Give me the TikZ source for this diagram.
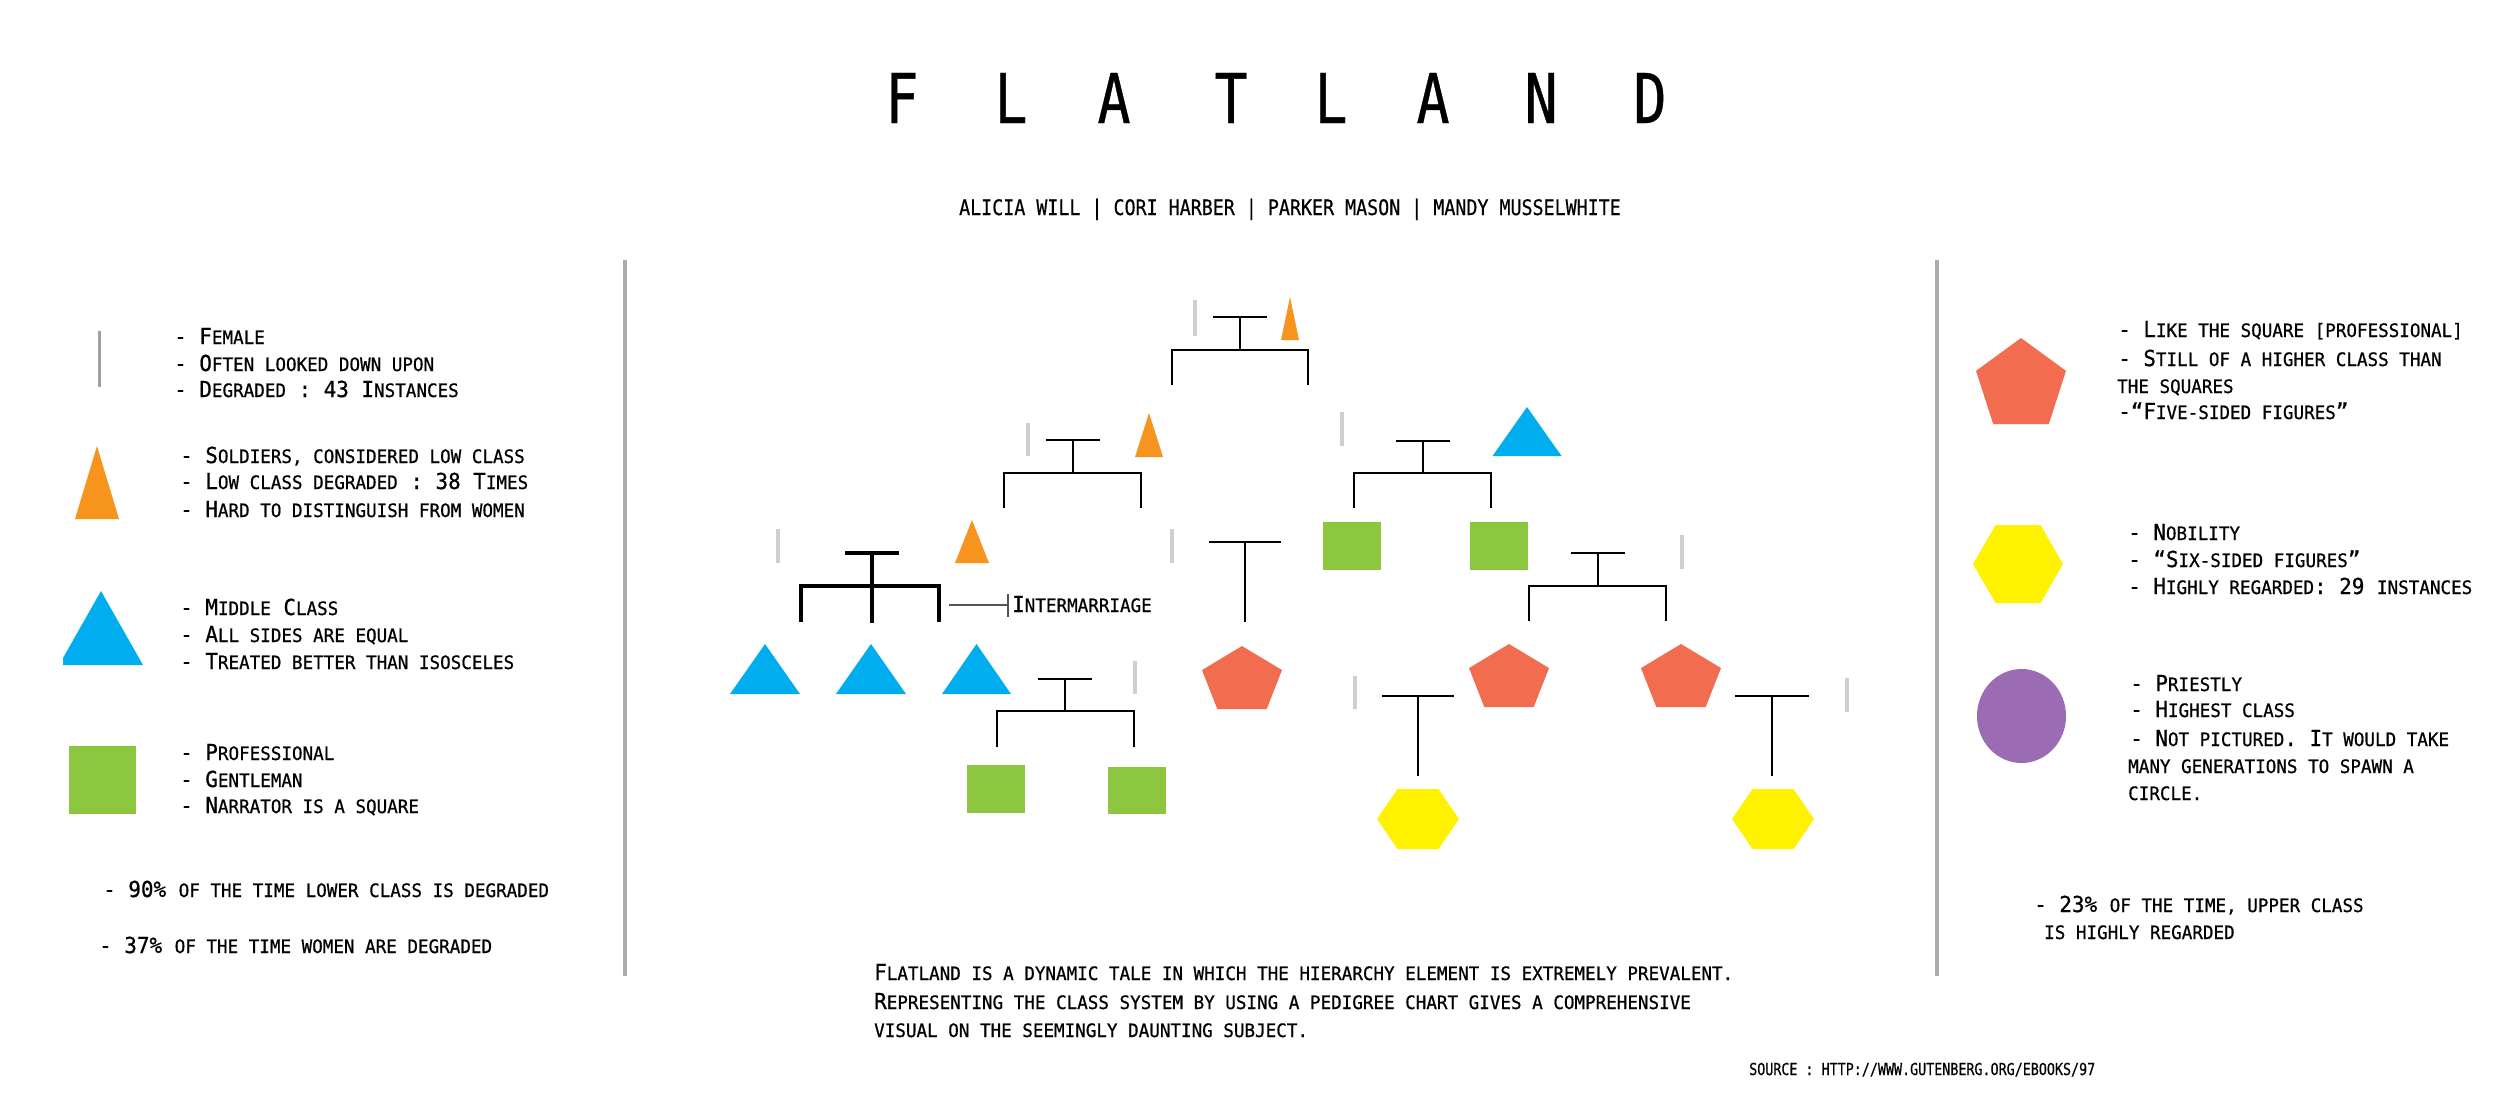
\documentclass[tikz,border=0pt]{standalone}
\usepackage{fontspec}
\newfontfamily\legfont[FakeStretch=0.95,FakeBold=0.7]{DejaVu Sans Mono}
\newfontfamily\titlefont[FakeStretch=0.8,FakeBold=0.6]{DejaVu Sans Mono}
\newfontfamily\authfont[FakeStretch=0.86,FakeBold=0.5]{DejaVu Sans Mono}
\newfontfamily\srcfont[FakeStretch=0.81,FakeBold=0.5]{DejaVu Sans Mono}
\newcommand\smsz{18.5}
\newcommand\smc[1]{{\fontsize{\smsz}{\smsz}\selectfont #1}}
\definecolor{orangeT}{HTML}{F7941D}
\definecolor{blueT}{HTML}{00AEEF}
\definecolor{greenS}{HTML}{8DC63F}
\definecolor{pentaC}{HTML}{F26C4F}
\definecolor{hexaC}{HTML}{FFF200}
\definecolor{circC}{HTML}{9B6BB4}
\definecolor{femlight}{HTML}{CFCFCF}
\definecolor{femdark}{HTML}{A0A0A0}
\definecolor{divC}{HTML}{ABABAB}
\definecolor{linkC}{HTML}{555555}
\tikzset{
  leg/.style={anchor=base west, inner sep=0pt, font=\legfont\fontsize{22}{27}\selectfont},
  titlech/.style={anchor=base, inner sep=0pt, font=\titlefont\fontsize{68.6}{70}\selectfont},
  tree/.style={draw=black, line width=2.5pt},
  heavy/.style={draw=black, line width=4.5pt},
  fem/.style={draw=femlight, line width=3.5pt},
  femkey/.style={draw=femdark, line width=2.5pt},
  divider/.style={draw=divC, line width=3.5pt},
  link/.style={draw=linkC, line width=2pt}
}
% pedigree helpers
\newcommand\pedT[5][tree]{\draw[#1] (#2,#4) -- (#3,#4) ({(#2+#3)/2},#4) -- ({(#2+#3)/2},#5);}
\newcommand\pedB[5][tree]{\draw[#1] (#2,#5) -- (#2,#4) -- (#3,#4) -- (#3,#5);}
\newcommand\femline[3]{\draw[fem] (#1,#2) -- (#1,#3);}
\newcommand\tri[5]{\fill[#5] (#1,#2) -- ({#1+#3},#4) -- ({#1-#3},#4) -- cycle;}
\newcommand\penta[5]{\fill[#5] (#1,#2) -- ({#1+0.5*#3},{#2+0.382*#4}) -- ({#1+0.309*#3},{#2+#4}) -- ({#1-0.309*#3},{#2+#4}) -- ({#1-0.5*#3},{#2+0.382*#4}) -- cycle;}
\newcommand\hexa[5]{\fill[#5] ({#1-0.5*#3},#2) -- ({#1-0.25*#3},{#2-0.5*#4}) -- ({#1+0.25*#3},{#2-0.5*#4}) -- ({#1+0.5*#3},#2) -- ({#1+0.25*#3},{#2+0.5*#4}) -- ({#1-0.25*#3},{#2+0.5*#4}) -- cycle;}
\begin{document}
\begin{tikzpicture}[x=1pt,y=-1pt]
\useasboundingbox (0,0) rectangle (2500,1098);
\fill[white] (0,0) rectangle (2500,1098);

% ---------- title and authors
\foreach \ch/\cx [count=\i] in {F/902,L/1011,A/1114,T/1231,L/1331,A/1433,N/1541,D/1650}
  \node[titlech] (title\i) at (\cx,123) {\ch};
\node[anchor=base, inner sep=0pt, font=\authfont\fontsize{21.3}{24}\selectfont] (authors) at (1290,215)
  {ALICIA WILL | CORI HARBER | PARKER MASON | MANDY MUSSELWHITE};

% ---------- dividers
\draw[divider] (625,260) -- (625,976);
\draw[divider] (1937,260) -- (1937,976);

% ---------- left legend
\draw[femkey] (99.5,331) -- (99.5,387);
\node[leg] (l1) at (174,344) {- F\smc{EMALE}};
\node[leg] (l2) at (174,371) {- O\smc{FTEN LOOKED DOWN UPON}};
\node[leg] (l3) at (174,397) {- D\smc{EGRADED} : 43 I\smc{NSTANCES}};

\tri{97}{446}{22}{519}{orangeT}
\node[leg] (l4) at (180,463) {- S\smc{OLDIERS, CONSIDERED LOW CLASS}};
\node[leg] (l5) at (180,489) {- L\smc{OW CLASS DEGRADED} : 38 T\smc{IMES}};
\node[leg] (l6) at (180,517) {- H\smc{ARD TO DISTINGUISH FROM WOMEN}};

\fill[blueT] (101,591) -- (143,665) -- (63,665) -- (63,658) -- cycle;
\node[leg] (l7) at (180,615) {- M\smc{IDDLE} C\smc{LASS}};
\node[leg] (l8) at (180,642) {- A\smc{LL SIDES ARE EQUAL}};
\node[leg] (l9) at (180,669) {- T\smc{REATED BETTER THAN ISOSCELES}};

\fill[greenS] (69,746) rectangle (136,814);
\node[leg] (l10) at (180,760) {- P\smc{ROFESSIONAL}};
\node[leg] (l11) at (180,787) {- G\smc{ENTLEMAN}};
\node[leg] (l12) at (180,813) {- N\smc{ARRATOR IS A SQUARE}};

\node[leg] (l13) at (103,897) {- 90\% \smc{OF THE TIME LOWER CLASS IS DEGRADED}};
\node[leg] (l14) at (99,953) {- 37\% \smc{OF THE TIME WOMEN ARE DEGRADED}};

% ---------- right legend
\penta{2021}{338}{90}{86}{pentaC}
\node[leg] (r1) at (2118,337) {- L\smc{IKE THE SQUARE [PROFESSIONAL]}};
\node[leg] (r2) at (2118,366) {- S\smc{TILL OF A HIGHER CLASS THAN}};
\node[leg] (r3) at (2117,393) {\smc{THE SQUARES}};
\node[leg] (r4) at (2118,419) {-“F\smc{IVE-SIDED FIGURES}”};

\hexa{2018}{564}{90}{78}{hexaC}
\node[leg] (r5) at (2128,540) {- N\smc{OBILITY}};
\node[leg] (r6) at (2128,567) {- “S\smc{IX-SIDED FIGURES}”};
\node[leg] (r7) at (2128,594) {- H\smc{IGHLY REGARDED}: 29 \smc{INSTANCES}};

\fill[circC] (2021.5,716) ellipse [x radius=44.5, y radius=47];
\node[leg] (r8) at (2130,691) {- P\smc{RIESTLY}};
\node[leg] (r9) at (2130,717) {- H\smc{IGHEST CLASS}};
\node[leg] (r10) at (2130,746) {- N\smc{OT PICTURED}. I\smc{T WOULD TAKE}};
\node[leg] (r11) at (2128,773) {\smc{MANY GENERATIONS TO SPAWN A}};
\node[leg] (r12) at (2128,800) {\smc{CIRCLE.}};

\node[leg] (r13) at (2034,912) {- 23\% \smc{OF THE TIME, UPPER CLASS}};
\node[leg] (r14) at (2044,939) {\smc{IS HIGHLY REGARDED}};

% ---------- pedigree chart
% females (grey strokes)
\femline{1195}{300}{336}
\femline{1028}{423}{456}
\femline{1342}{412}{446}
\femline{778}{529}{563}
\femline{1172}{529}{563}
\femline{1682}{535}{569}
\femline{1135}{661}{694}
\femline{1355}{676}{709}
\femline{1847}{678}{712}

% soldiers
\tri{1290}{297}{9}{340}{orangeT}
\tri{1149}{413}{14}{457}{orangeT}
\tri{972}{520}{17}{563}{orangeT}
% middle class
\tri{1527}{407}{34.5}{456}{blueT}
\tri{765}{644}{35}{694}{blueT}
\tri{871}{644}{35}{694}{blueT}
\tri{976.5}{644}{34.5}{694}{blueT}
% professionals
\fill[greenS] (1323,522) rectangle (1381,570);
\fill[greenS] (1470,522) rectangle (1528,570);
\fill[greenS] (967,765) rectangle (1025,813);
\fill[greenS] (1108,767) rectangle (1166,814);
% five-sided
\penta{1242}{646}{80}{63}{pentaC}
\penta{1509}{644}{80}{63}{pentaC}
\penta{1681}{644}{80}{63}{pentaC}
% six-sided
\hexa{1418}{819}{82}{60}{hexaC}
\hexa{1773}{819}{82}{60}{hexaC}

% marriage bars and sibling brackets
\pedT{1213}{1267}{317}{350}
\pedB{1172}{1308}{350}{385}
\pedT{1046}{1100}{440}{473}
\pedB{1004}{1141}{473}{508}
\pedT{1396}{1450}{441}{473}
\pedB{1354}{1491}{473}{508}
\pedT[heavy]{845}{899}{553}{623}
\pedB[heavy]{801}{939}{586}{622}
\pedT{1209}{1281}{542}{622}
\pedT{1038}{1092}{679}{711}
\pedB{997}{1134}{711}{747}
\pedT{1571}{1625}{553}{586}
\pedB{1529}{1666}{586}{621}
\pedT{1382}{1454}{696}{776}
\pedT{1735}{1809}{696}{776}

% intermarriage label
\node[leg] (inter) at (1012,612) {I\smc{NTERMARRIAGE}};
\coordinate (imA) at (949,605);
\coordinate (imB) at (1008,605);
\draw[link] (imA) -- (imB);
\draw[link] ([yshift=11pt]imB) -- ([yshift=-12pt]imB);

% ---------- bottom text
\node[leg] (p1) at (874,980) {F\smc{LATLAND IS A DYNAMIC TALE IN WHICH THE HIERARCHY ELEMENT IS EXTREMELY PREVALENT.}};
\node[leg] (p2) at (874,1009) {R\smc{EPRESENTING THE CLASS SYSTEM BY USING A PEDIGREE CHART GIVES A COMPREHENSIVE}};
\node[leg] (p3) at (874,1037) {\smc{VISUAL ON THE SEEMINGLY DAUNTING SUBJECT.}};
\node[anchor=base west, inner sep=0pt, font=\srcfont\fontsize{16.5}{18}\selectfont] (src) at (1749,1075)
  {SOURCE : HTTP://WWW.GUTENBERG.ORG/EBOOKS/97};
\end{tikzpicture}
\end{document}
